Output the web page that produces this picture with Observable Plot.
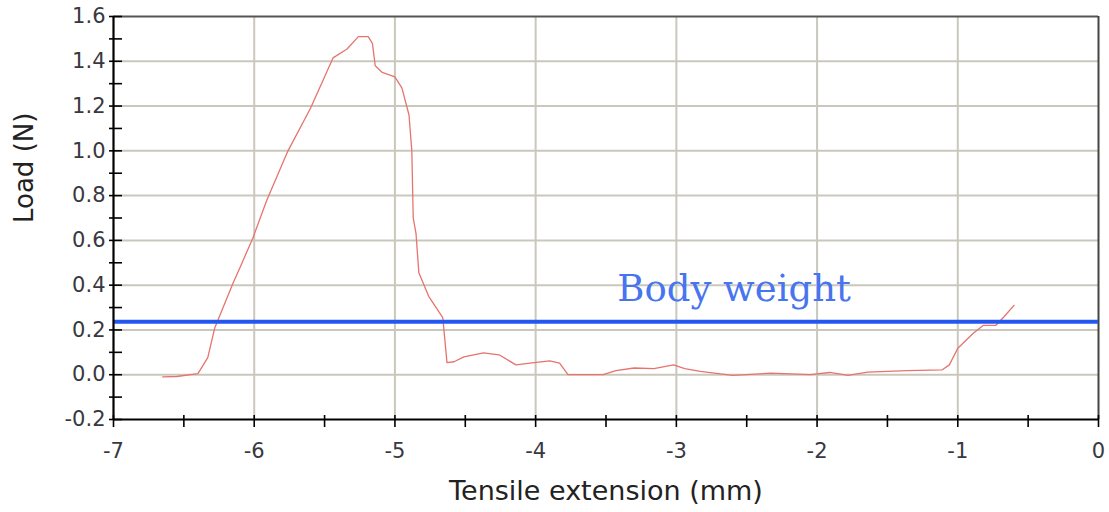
<!DOCTYPE html>
<html>
<head>
<meta charset="utf-8">
<script src="https://cdn.jsdelivr.net/npm/d3@7"></script>
<script src="https://cdn.jsdelivr.net/npm/@observablehq/plot@0.6"></script>
<style>
  html, body { margin: 0; padding: 0; background: #fff; }
  #chart svg { display: block; }
</style>
</head>
<body>
<div id="chart"></div>
<script>
// Tensile extension (mm)
const extension = [-6.65,-6.55,-6.40,-6.33,-6.28,-6.15,-6.10,-6.01,-5.91,-5.76,-5.60,-5.44,-5.34,-5.26,-5.19,-5.16,-5.14,-5.09,-5.00,-4.95,-4.90,-4.88,-4.87,-4.85,-4.83,-4.76,-4.66,-4.63,-4.58,-4.51,-4.37,-4.26,-4.14,-4.04,-3.90,-3.83,-3.77,-3.52,-3.43,-3.30,-3.16,-3.02,-2.94,-2.83,-2.60,-2.33,-2.05,-1.91,-1.78,-1.64,-1.36,-1.11,-1.06,-1.00,-0.89,-0.82,-0.73,-0.67,-0.60];
// Load (N)
const load = [-0.01,-0.008,0.005,0.076,0.21,0.41,0.48,0.61,0.78,1.00,1.19,1.415,1.455,1.51,1.51,1.48,1.38,1.35,1.33,1.28,1.16,1.00,0.70,0.63,0.455,0.35,0.255,0.054,0.058,0.08,0.098,0.089,0.044,0.052,0.062,0.052,0.0,0.0,0.018,0.03,0.027,0.044,0.027,0.015,-0.003,0.007,0.0,0.01,-0.003,0.012,0.018,0.022,0.044,0.118,0.185,0.22,0.22,0.26,0.31];

const bodyWeight = 0.237;
const annotation = [{label: "Body weight", x: -2.59}];

const xDomain = [-7, 0];
const yDomain = [-0.2, 1.6];
const xMajor = [-7, -6, -5, -4, -3, -2, -1, 0];
const xMinor = d3.range(-7, 0.001, 0.5);
const xGrid = [-6, -5, -4, -3, -2, -1];
const yMajor = [-0.2, 0, 0.2, 0.4, 0.6, 0.8, 1.0, 1.2, 1.4, 1.6];
const yMinor = d3.range(-0.2, 1.6001, 0.1).map(d => +d.toFixed(1));
const yGrid = [0, 0.2, 0.4, 0.6, 0.8, 1.0, 1.2, 1.4];

const xLabel = "Tensile extension (mm)";
const yLabel = "Load (N)";

const series = extension.map((x, i) => ({x, y: load[i]}));

const gridColor = "#cac8bc";
const tickFont = "'DejaVu Sans', Verdana, sans-serif";

const chart = Plot.plot({
  width: 1109,
  height: 512,
  marginLeft: 113,
  marginRight: 11,
  marginTop: 16,
  marginBottom: 93,
  style: {fontFamily: tickFont, background: "#fff"},
  x: {domain: xDomain},
  y: {domain: yDomain},
  marks: [
    Plot.gridX(xGrid, {stroke: gridColor, strokeOpacity: 1, strokeWidth: 2}),
    Plot.gridY(yGrid, {stroke: gridColor, strokeOpacity: 1, strokeWidth: 2}),
    Plot.ruleY([yDomain[1]], {stroke: "#555", strokeWidth: 2}),
    Plot.ruleX([xDomain[1]], {stroke: "#444", strokeWidth: 2}),
    Plot.line(series, {x: "x", y: "y", stroke: "#e6746e", strokeWidth: 1.3}),
    Plot.ruleY([bodyWeight], {stroke: "#2457f0", strokeWidth: 4}),
    Plot.text(annotation, {
      x: "x", y: () => bodyWeight, text: "label",
      fill: "#4874f0", fontSize: 37, lineAnchor: "bottom", dy: -21,
      fontFamily: "'DejaVu Serif', 'Liberation Serif', serif"
    }),
    Plot.ruleX([xDomain[0]], {stroke: "#000", strokeWidth: 2.2}),
    Plot.ruleY([yDomain[0]], {stroke: "#000", strokeWidth: 2.2}),
    // crossing ticks on the bottom axis
    Plot.ruleX(xMinor, {x: d => d, y1: () => yDomain[0], y2: () => yDomain[0], insetTop: -4, insetBottom: -8, stroke: "#000", strokeWidth: 1.6}),
    // crossing ticks on the left axis
    Plot.ruleY(yMinor, {y: d => d, x1: () => xDomain[0], x2: () => xDomain[0], insetLeft: -4, insetRight: -9, stroke: "#000", strokeWidth: 1.6}),
    Plot.axisX({ticks: xMajor, anchor: "bottom", tickSize: 0, tickPadding: 24, tickFormat: d => String(d), fontSize: 21, fill: "#383840", label: null}),
    Plot.axisY({ticks: yMajor, anchor: "left", tickSize: 0, tickPadding: 8, tickFormat: d => d.toFixed(1), fontSize: 21, fill: "#383840", label: null}),
    Plot.text([xLabel], {frameAnchor: "bottom", dy: 80, fontSize: 27, fill: "#222"}),
    Plot.text([yLabel], {frameAnchor: "left", dx: -89, dy: 5, rotate: -90, fontSize: 26, fill: "#222"})
  ]
});
document.getElementById("chart").appendChild(chart);
</script>
</body>
</html>
